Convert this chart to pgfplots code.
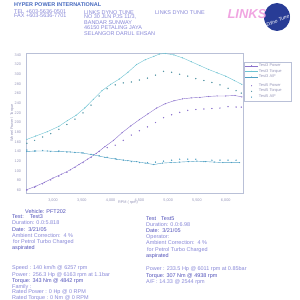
\documentclass[border=0pt]{standalone}
\usepackage{fontspec}
\setmainfont{Liberation Sans}
\usepackage{pgfplots}
\pgfplotsset{compat=1.18}
\definecolor{hdr}{RGB}{70,105,190}
\definecolor{txl}{RGB}{135,135,215}
\definecolor{txd}{RGB}{80,80,185}
\definecolor{axisc}{RGB}{185,192,215}
\definecolor{tickc}{RGB}{150,150,185}
\definecolor{pw}{RGB}{140,115,205}
\definecolor{tq}{RGB}{110,195,210}
\definecolor{af}{RGB}{80,160,195}
\definecolor{tqd}{RGB}{85,150,165}
\definecolor{pink}{RGB}{240,165,225}
\definecolor{logob}{RGB}{40,60,150}
\newcommand{\tx}[4][txl]{\node[anchor=base west, inner sep=0, text=#1, font=\fontsize{5.5}{6}\selectfont] at (#2, {298-#3}) {#4};}
\newcommand{\lgent}[1]{\makebox[31bp][l]{#1}}
\begin{document}
\begin{tikzpicture}[x=1bp,y=1bp]
\path[use as bounding box] (0,0) rectangle (300,300);
% header
\node[anchor=base west, inner sep=0, text=hdr, font=\fontsize{5.5}{6}\selectfont\bfseries] at (14,294) {HYPER POWER INTERNATIONAL};
\tx{14}{11}{TEL +603-5636-0501}
\tx{14}{15.5}{FAX +603-5636-7701}
\tx{84}{12}{LINKS DYNO TUNE}
\tx{84}{16.5}{NO 30 JLN PJS 11/3,}
\tx{84}{22}{BANDAR SUNWAY}
\tx{84}{27.5}{46150 PETALING JAYA}
\tx{84}{33}{SELANGOR DARUL EHSAN}
\tx{155}{12}{LINKS DYNO TUNE}
% logo
\fill[logob] (277,283) ellipse (13 and 14);
\node[text=pink, font=\fontsize{13}{13}\selectfont\bfseries\itshape, inner sep=0] at (247,286) {LINKS};
\node[text=white, font=\fontsize{5}{5}\selectfont\itshape, inner sep=0, rotate=20] at (278,279) {Dyno Tune};
% left block
\tx[txd]{25}{211}{Vehicle: PFT202}
\tx[txd]{12}{216.5}{Test:\hspace{6bp}Test3}
\tx{12}{222.5}{Duration: 0.0:5.818}
\tx[txd]{12}{229}{Date:\ \ 3/21/05}
\tx{12}{235.7}{Ambient Correction:\ \ 4 \%}
\tx{13}{241.7}{for Petrol Turbo Charged}
\tx[txd]{12}{247.7}{aspirated}
\tx{12}{267.7}{Speed : 140 km/h @ 6257 rpm}
\tx{12}{274}{Power : 256.3 Hp @ 6163 rpm at 1.1bar}
\tx[txd]{12}{280}{Torque: 343 Nm @ 4842 rpm}
\tx{12}{286}{Family :}
\tx{12}{291.7}{Rated Power : 0 Hp @ 0 RPM}
\tx{12}{297.3}{Rated Torque : 0 Nm @ 0 RPM}
% right block
\tx[txd]{146}{218.3}{Test\hspace{5bp}Test5}
\tx{146}{224.3}{Duration: 0.0:6.98}
\tx[txd]{146}{230.3}{Date:\ \ 3/21/05}
\tx{146}{236.7}{Operator:}
\tx{146}{242.7}{Ambient Correction:\ \ 4 \%}
\tx{147}{249}{for Petrol Turbo Charged}
\tx[txd]{146}{255}{aspirated}
\tx{146}{268.7}{Power : 233.5 Hp @ 6011 rpm at 0.85bar}
\tx[txd]{146}{275}{Torque: 307 Nm @ 4938 rpm}
\tx{146}{281}{A/F : 14.33 @ 2544 rpm}
\begin{axis}[
  at={(26bp,107bp)}, anchor=south west,
  width=217bp, height=140bp, scale only axis,
  xmin=2530, xmax=6300, ymin=54, ymax=344,
  xtick={3000,3500,...,6000}, ytick={60,80,...,340},
  scaled x ticks=false,
  /pgf/number format/assume math mode=true,
  /pgf/number format/1000 sep={,},
  major tick length=0pt,
  axis line style={draw=axisc, line width=0.5pt},
  tick label style={font=\fontsize{3.8}{4}\selectfont, text=tickc},
  xticklabel style={yshift=-2bp},
  yticklabel style={xshift=-1.5bp},
  xlabel={RPM ( rpm)}, ylabel={Wheel Power / Torque},
  label style={font=\fontsize{3.8}{4}\selectfont, text=tickc},
  xlabel style={at={(axis description cs:0.47,-0.07)}, anchor=center},
  ylabel style={at={(axis description cs:-0.04,0.5)}, anchor=south},
  legend style={at={(1.005,0.936)}, anchor=north west, draw=axisc, line width=0.3pt,
    font=\fontsize{4}{4.5}\selectfont, text=tickc, inner sep=0.8pt,
    nodes={inner sep=0.7pt}},
  legend cell align=left,
  legend image post style={xscale=0.75},
]
\addplot[pw, line width=0.4pt, mark=*, mark size=0.35pt] coordinates {
(2544,61)(2700,68)(2850,76)(3000,85)(3150,93)(3300,102)(3450,113)(3600,124)(3750,136)(3900,150)(4050,163)(4200,179)(4350,193)(4500,206)(4650,218)(4800,230)(4950,239)(5100,245)(5250,249)(5400,251)(5550,252)(5700,254)(5850,255)(6000,255)(6160,256)(6280,253)};
\addlegendentry{\lgent{Test3 Power}}
\addplot[tq, line width=0.4pt, mark=*, mark size=0.35pt] coordinates {
(2544,165)(2700,172)(2900,181)(3100,192)(3250,204)(3400,215)(3550,230)(3700,248)(3850,266)(4000,279)(4150,290)(4300,304)(4450,320)(4600,330)(4750,337)(4850,342)(4950,343)(5100,340)(5250,334)(5400,326)(5550,318)(5700,310)(5850,303)(6000,296)(6150,287)(6280,279)};
\addlegendentry{\lgent{Test3 Torque}}
\addplot[af, line width=0.4pt, mark=*, mark size=0.35pt] coordinates {
(2544,140)(2700,141)(2900,141)(3100,140)(3300,139)(3500,137)(3700,133)(3900,128)(4100,124)(4300,121)(4450,119)(4600,116)(4750,113)(4900,116)(5050,117)(5200,118)(5350,119)(5500,120)(5650,119)(5800,118)(5950,117)(6100,117)(6240,117)};
\addlegendentry{\lgent{Test3 A/F}}
\addlegendimage{empty legend}
\addlegendentry{}
\addplot[pw, only marks, mark=*, mark size=0.45pt] coordinates {
(2544,60)(2680,66)(2820,73)(2960,81)(3100,89)(3240,97)(3380,107)(3520,117)(3660,128)(3800,140)(3940,148)(4080,153)(4220,163)(4360,174)(4500,183)(4640,191)(4780,200)(4920,210)(5060,216)(5200,221)(5340,225)(5480,227)(5620,228)(5760,229)(5900,230)(6040,233)(6180,232)(6270,232)};
\addlegendentry{\lgent{Test5 Power}}
\addplot[tqd, only marks, mark=*, mark size=0.45pt] coordinates {
(2544,157)(2680,163)(2820,170)(2960,177)(3100,186)(3240,196)(3380,207)(3520,220)(3660,236)(3800,255)(3940,270)(4080,278)(4220,282)(4360,284)(4500,288)(4640,292)(4780,298)(4920,306)(5060,304)(5200,300)(5340,296)(5480,291)(5620,287)(5760,283)(5900,278)(6040,271)(6180,266)(6270,261)};
\addlegendentry{\lgent{Test5 Torque}}
\addplot[af, only marks, mark=*, mark size=0.45pt] coordinates {
(2544,143)(2680,141)(2820,142)(2960,140)(3100,141)(3240,139)(3380,138)(3520,137)(3660,134)(3800,131)(3940,128)(4080,125)(4220,122)(4360,119)(4500,117)(4640,117)(4780,118)(4920,120)(5060,122)(5200,124)(5340,124)(5480,124)(5620,119)(5760,122)(5900,122)(6040,122)(6180,122)};
\addlegendentry{\lgent{Test5 A/F}}
\end{axis}
\end{tikzpicture}
\end{document}
